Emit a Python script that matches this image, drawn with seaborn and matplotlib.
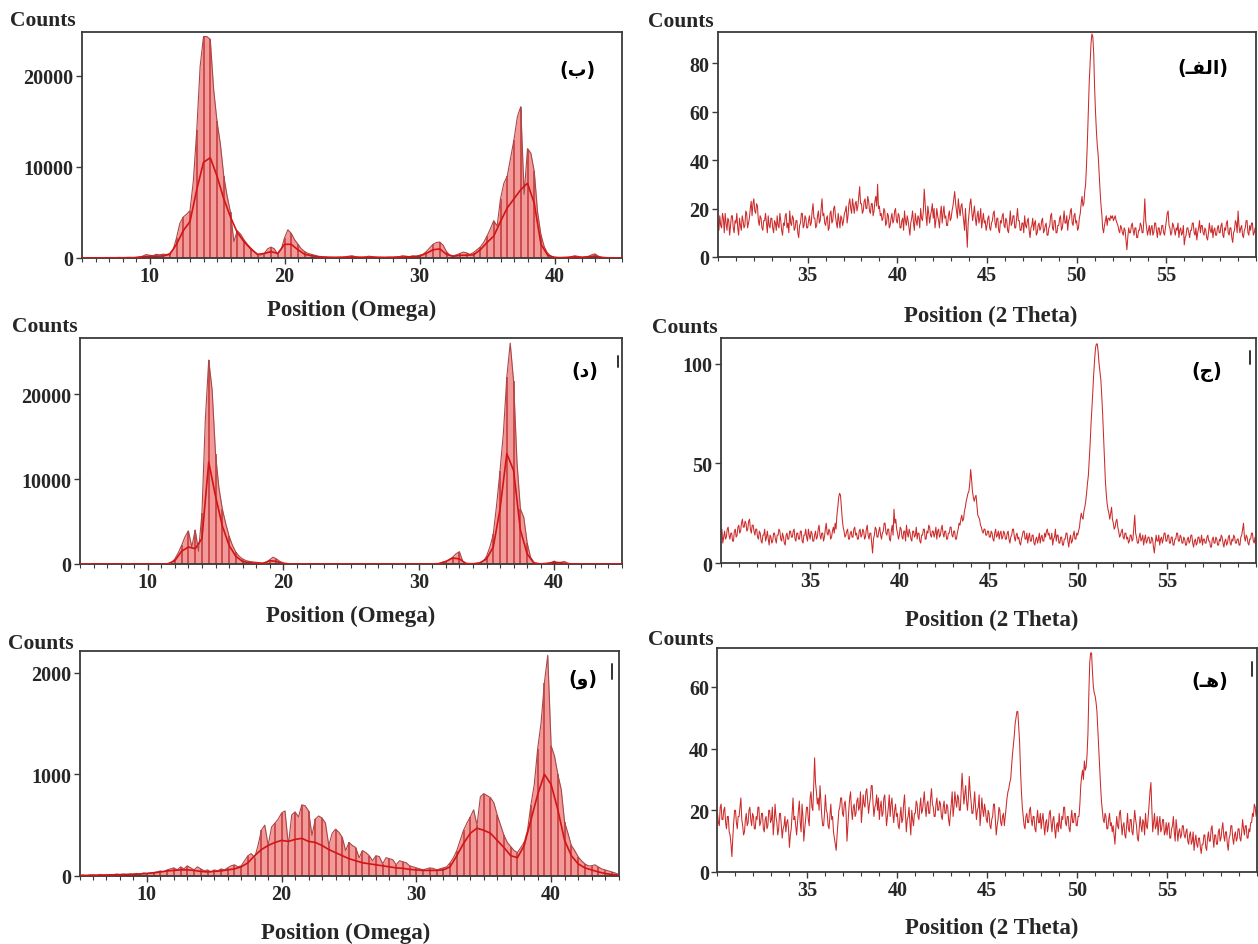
import numpy as np
import matplotlib
matplotlib.use("Agg")
import matplotlib.pyplot as plt
from matplotlib.lines import Line2D
from matplotlib.ticker import MultipleLocator, FixedLocator
import seaborn as sns

W, H = 1258, 945

# ---------------- data ----------------
OMEGA_START, OMEGA_STEP, MID_STEP = 5.0, 0.25, 0.5
THETA_START, THETA_STEP = 30.0, 0.05

# panel (b) omega scan: envelope, 4 values per degree from 5 to 45
B_TOP = [
    20, 30, 20, 40,   30, 20, 40, 30,   50, 30, 40, 60,   40, 50, 70, 50,      # 5-8
    80, 100, 200, 380,   300, 250, 400, 350,   420, 380, 500, 900,             # 9-11
    2200, 3800, 4500, 4800,   5200, 8500, 14000, 21000,                        # 12-13
    24300, 24300, 24000, 18500,   15000, 12500, 9000, 6800,                    # 14-15
    5000, 1800, 3000, 2600,   2000, 1500, 1100, 700,                           # 16-17
    400, 300, 500, 1000,   1200, 1000, 400, 900,                               # 18-19
    2200, 3100, 2700, 2000,   1500, 1000, 700, 500,                            # 20-21
    400, 300, 200, 150,   120, 100, 90, 80,   100, 90, 120, 200,               # 22-24
    250, 150, 100, 80,   120, 200, 150, 100,   90, 80, 70, 100,                # 25-27
    80, 120, 150, 250,   200, 150, 250, 200,                                   # 28-29
    300, 400, 700, 1100,   1500, 1700, 1750, 1400,                             # 30-31
    700, 300, 250, 350,   500, 650, 550, 400,                                  # 32-33
    600, 900, 1200, 1700,   2400, 3200, 4100, 3500,                            # 34-35
    6500, 8200, 9000, 11000,   13000, 15500, 16600, 7000,                      # 36-37
    12000, 11500, 9500, 5000,   2500, 1200, 500, 200,                          # 38-39
    100, 60, 50, 70,   90, 150, 250, 180,   100, 70, 150, 350,                 # 40-42
    450, 200, 80, 50,   40, 30, 30, 20,   20,                                  # 43-45
]
B_MID = [
    15, 15, 20, 20, 25, 25, 30, 35, 40, 150, 180, 200, 220, 400,               # 5-11
    1500, 3000, 4000, 7500, 10500, 11000, 9000, 6500, 4500, 2800,              # 12-16
    1800, 1000, 400, 500, 700, 500, 1500, 1500, 900, 400,                      # 17-21
    250, 120, 80, 60, 60, 90, 120, 70, 80, 90, 60, 60, 70, 100, 120, 130,      # 22-29
    200, 500, 900, 1000, 400, 180, 300, 300, 350, 900,                         # 30-34
    1700, 2400, 4000, 5500, 6500, 7500, 8200, 6000, 1500, 300,                 # 35-39
    50, 40, 60, 120, 70, 150, 200, 50, 20, 15, 15,                             # 40-45
]

# panel (d) omega scan
D_TOP = [
    10, 10, 10, 10,   10, 12, 10, 10,   10, 10, 12, 10,   10, 10, 10, 12,      # 5-8
    10, 12, 10, 10,   10, 10, 12, 10,   10, 20, 50, 150,                       # 9-11
    600, 1300, 2200, 3200,   3900, 2000, 4000, 1500,                           # 12-13
    6000, 17000, 24000, 20500,   13000, 9000, 6500, 4800,                      # 14-15
    3300, 2200, 1400, 900,   600, 400, 300, 250,                               # 16-17
    200, 150, 120, 100,   500, 800, 600, 300,   150, 80, 40, 20,               # 18-20
    10, 12, 10, 10,   12, 10, 10, 12,   10, 10, 12, 10,   10, 12, 10, 10,      # 21-24
    12, 10, 10, 12,   10, 10, 12, 10,   10, 12, 10, 10,   12, 10, 10, 12,      # 25-28
    10, 10, 12, 10,   10, 12, 10, 15,   15, 20, 60, 200,                       # 29-31
    300, 500, 800, 1200,   1450, 300, 80, 50,   40, 60, 150, 300,              # 32-34
    900, 2000, 3500, 7000,   11000, 15500, 22000, 26000,                       # 35-36
    21500, 12000, 6500, 5500,   2500, 800, 200, 60,                            # 37-38
    30, 20, 40, 150,   350, 100, 200, 300,   100, 30, 20, 10,                  # 39-41
    10, 12, 10, 10,   10, 10, 12, 10,   10, 10, 10, 10,   10,                  # 42-45
]
D_MID = [
    5, 5, 5, 5, 5, 5, 5, 5, 5, 5, 5, 5, 10, 30,                                # 5-11
    400, 1500, 2000, 1800, 3000, 12000, 8000, 4500, 2200, 900,                 # 12-16
    300, 150, 80, 60, 400, 300, 30, 5,                                         # 17-20
    5, 5, 5, 5, 5, 5, 5, 5, 5, 5, 5, 5, 5, 5, 5, 5, 5, 5, 5, 5,                # 21-30
    10, 50, 300, 700, 600, 40, 30, 120,                                        # 31-34
    600, 2000, 6500, 13000, 11000, 4000, 1200, 100,                            # 35-38
    20, 80, 200, 150, 20, 5, 5, 5, 5, 5, 5, 5, 5,                              # 39-45
]

# panel (w) omega scan
W_TOP = [
    5, 10, 5, 10,   10, 5, 15, 10,   10, 15, 10, 20,   15, 20, 15, 20,         # 5-8
    20, 25, 20, 30,   25, 30, 35, 40,   50, 40, 60, 70,                        # 9-11
    80, 60, 90, 70,   100, 80, 60, 90,   70, 50, 60, 40,                       # 12-14
    60, 50, 70, 60,   80, 100, 110, 90,   100, 150, 200, 220,                  # 15-17
    180, 300, 450, 500,   300, 480, 520, 560,                                  # 18-19
    620, 640, 300, 600,   630, 580, 700, 690,                                  # 20-21
    640, 400, 560, 590,   570, 520, 300, 420,                                  # 22-23
    460, 430, 380, 250,   330, 300, 280, 180,                                  # 24-25
    250, 230, 200, 150,   200, 190, 120, 180,                                  # 26-27
    170, 160, 110, 150,   140, 130, 100, 90,                                   # 28-29
    80, 70, 60, 70,   80, 75, 60, 70,   80, 90, 130, 180,                      # 30-32
    250, 350, 450, 520,   580, 650, 500, 780,                                  # 33-34
    810, 790, 770, 720,   600, 500, 400, 330,                                  # 35-36
    290, 250, 230, 280,   330, 450, 700, 900,                                  # 37-38
    1250, 1500, 1900, 2170,   1280, 1180, 1000, 850,                           # 39-40
    530, 420, 300, 250,   190, 150, 120, 100,                                  # 41-42
    100, 110, 90, 70,   60, 50, 40, 30,   15,                                  # 43-45
]
W_MID = [
    5, 5, 8, 8, 10, 12, 12, 15, 15, 20, 25, 30, 40, 50,                        # 5-11
    55, 60, 60, 55, 45, 40, 45, 50, 60, 70, 90, 130,                           # 12-17
    200, 260, 300, 330, 350, 340, 360, 370, 340, 330, 300, 260,                # 18-23
    230, 200, 170, 150, 130, 120, 110, 100, 90, 80, 75, 65,                    # 24-29
    60, 55, 55, 55, 60, 90, 200, 320, 420, 470, 450, 420,                      # 30-35
    350, 280, 200, 180, 300, 550, 800, 1000, 900, 650,                         # 36-40
    350, 200, 120, 80, 60, 40, 25, 15, 10,                                     # 41-45
]

# 2-theta scans: one row of 20 values per degree (step 0.05) from 30 to 60
A_ROWS = [
    [14, 11, 17, 13, 12, 18, 16, 10, 18, 14, 11, 16, 15, 9, 13, 17, 17, 12, 10, 15],    # 30
    [14, 18, 12, 9, 16, 13, 11, 17, 15, 12, 13, 19, 18, 12, 14, 16, 20, 23, 17, 22],    # 31
    [24, 19, 18, 22, 21, 15, 13, 17, 16, 12, 11, 15, 15, 18, 14, 10, 17, 13, 12, 16],   # 32
    [16, 12, 10, 15, 14, 11, 17, 13, 12, 18, 15, 11, 9, 14, 13, 17, 18, 12, 14, 10],    # 33
    [19, 14, 13, 17, 16, 11, 12, 15, 15, 10, 8, 13, 14, 18, 18, 12, 13, 17, 16, 12],    # 34
    [12, 15, 17, 13, 14, 19, 22, 16, 16, 12, 13, 17, 19, 14, 15, 20, 24, 17, 18, 14],   # 35
    [13, 16, 17, 11, 12, 18, 19, 14, 15, 20, 21, 17, 14, 12, 18, 15, 12, 17, 16, 13],   # 36
    [15, 18, 19, 21, 14, 17, 22, 24, 20, 18, 24, 21, 18, 22, 23, 19, 21, 25, 29, 22],   # 37
    [22, 18, 19, 23, 24, 20, 20, 25, 23, 19, 18, 22, 22, 17, 19, 23, 25, 21, 30, 20],   # 38
    [21, 17, 18, 15, 16, 20, 19, 13, 14, 18, 17, 12, 13, 16, 18, 14, 15, 19, 20, 15],   # 39
    [14, 18, 17, 12, 12, 15, 16, 11, 19, 15, 13, 17, 15, 12, 9, 14, 16, 19, 14, 11],    # 40
    [18, 15, 13, 17, 16, 12, 20, 16, 15, 19, 28, 22, 17, 13, 21, 18, 14, 17, 19, 22],   # 41
    [16, 20, 12, 15, 20, 17, 15, 12, 18, 21, 14, 18, 21, 16, 17, 13, 13, 17, 19, 15],   # 42
    [16, 19, 21, 24, 27, 22, 19, 16, 24, 20, 17, 21, 22, 18, 15, 11, 20, 12, 4, 14],    # 43
    [18, 22, 24, 19, 15, 18, 21, 16, 13, 17, 19, 14, 16, 20, 12, 15, 18, 14, 15, 11],   # 44
    [13, 16, 17, 12, 11, 14, 15, 18, 19, 14, 12, 16, 16, 11, 10, 15, 14, 17, 18, 13],   # 45
    [12, 16, 15, 11, 10, 14, 19, 13, 14, 17, 17, 12, 12, 16, 20, 15, 15, 11, 11, 14],   # 46
    [14, 10, 17, 13, 12, 15, 16, 11, 8, 12, 13, 16, 11, 14, 15, 9, 10, 13, 14, 11],     # 47
    [12, 15, 16, 10, 11, 13, 14, 9, 9, 12, 13, 17, 18, 12, 11, 15, 15, 10, 10, 13],     # 48
    [13, 16, 17, 11, 12, 15, 19, 14, 14, 17, 11, 15, 16, 19, 20, 14, 13, 17, 18, 14],   # 49
    [15, 11, 12, 16, 18, 22, 25, 21, 22, 27, 30, 38, 48, 60, 72, 80, 88, 92, 91, 84],   # 50
    [70, 60, 52, 46, 42, 35, 28, 22, 18, 12, 10, 13, 15, 17, 13, 16, 16, 15, 17, 16],   # 51
    [17, 15, 16, 17, 15, 14, 13, 11, 10, 13, 12, 10, 9, 12, 11, 7, 3, 8, 12, 10],       # 52
    [10, 13, 14, 11, 9, 12, 12, 8, 8, 11, 11, 14, 13, 10, 10, 16, 24, 15, 12, 9],       # 53
    [11, 13, 9, 12, 13, 9, 10, 14, 14, 11, 8, 12, 12, 9, 10, 13, 13, 10, 9, 12],        # 54
    [15, 18, 19, 13, 12, 9, 10, 14, 13, 11, 9, 12, 11, 14, 8, 11, 12, 9, 10, 13],       # 55
    [5, 8, 9, 12, 12, 10, 8, 11, 11, 14, 14, 10, 9, 12, 7, 10, 12, 15, 10, 13],         # 56
    [13, 10, 9, 12, 11, 8, 7, 10, 14, 11, 10, 13, 8, 11, 12, 9, 9, 12, 13, 10],         # 57
    [10, 13, 14, 9, 8, 12, 11, 14, 15, 10, 9, 12, 12, 8, 6, 10, 11, 15, 14, 10],        # 58
    [19, 13, 10, 12, 13, 9, 8, 11, 12, 15, 15, 10, 9, 13, 11, 14, 14, 9, 10, 12],       # 59
    [12],                                                                               # 60
]
C_ROWS = [
    [14, 17, 10, 13, 16, 12, 13, 17, 18, 14, 12, 15, 15, 11, 11, 16, 17, 13, 14, 18],   # 30
    [19, 15, 16, 20, 22, 18, 18, 21, 20, 16, 17, 21, 22, 17, 15, 19, 19, 16, 14, 17],   # 31
    [17, 13, 12, 16, 15, 11, 10, 14, 14, 17, 11, 13, 16, 12, 9, 14, 13, 10, 11, 15],    # 32
    [15, 12, 10, 14, 14, 17, 16, 12, 11, 15, 13, 10, 9, 14, 15, 12, 12, 16, 16, 13],    # 33
    [13, 16, 17, 12, 11, 15, 15, 12, 12, 16, 16, 11, 10, 14, 14, 17, 13, 11, 17, 14],   # 34
    [12, 16, 15, 11, 11, 14, 16, 12, 13, 17, 19, 14, 12, 15, 15, 11, 13, 17, 20, 15],   # 35
    [14, 17, 16, 12, 13, 16, 18, 15, 20, 17, 24, 28, 33, 35, 34, 28, 22, 18, 16, 13],   # 36
    [14, 16, 17, 12, 12, 15, 16, 13, 13, 17, 18, 14, 15, 12, 12, 16, 17, 13, 14, 17],   # 37
    [16, 12, 13, 17, 19, 14, 12, 15, 15, 10, 5, 12, 14, 18, 17, 13, 13, 16, 18, 14],    # 38
    [12, 15, 16, 20, 20, 15, 14, 17, 17, 12, 11, 16, 19, 14, 27, 20, 22, 17, 15, 12],   # 39
    [14, 18, 17, 13, 12, 16, 16, 11, 19, 15, 13, 17, 15, 12, 11, 16, 16, 13, 14, 18],   # 40
    [12, 15, 15, 11, 10, 14, 14, 17, 17, 12, 12, 16, 15, 19, 18, 14, 13, 16, 16, 13],   # 41
    [15, 18, 12, 16, 17, 13, 14, 17, 19, 15, 13, 16, 16, 12, 12, 15, 15, 18, 18, 14],   # 42
    [13, 16, 16, 12, 12, 15, 17, 20, 19, 22, 24, 21, 22, 26, 28, 31, 33, 35, 36, 40],   # 43
    [47, 42, 36, 33, 31, 33, 34, 29, 24, 23, 22, 19, 18, 16, 15, 17, 17, 14, 14, 16],   # 44
    [16, 13, 13, 16, 15, 12, 11, 15, 17, 13, 14, 16, 12, 15, 16, 12, 13, 16, 15, 12],   # 45
    [12, 15, 16, 12, 10, 13, 14, 17, 17, 13, 11, 14, 15, 12, 13, 10, 9, 12, 14, 16],    # 46
    [16, 12, 12, 15, 10, 13, 15, 11, 11, 14, 14, 10, 9, 12, 13, 10, 12, 15, 10, 13],    # 47
    [14, 11, 11, 15, 13, 16, 17, 14, 15, 12, 12, 15, 9, 12, 13, 17, 11, 14, 14, 10],    # 48
    [10, 13, 13, 9, 9, 12, 12, 15, 15, 11, 8, 12, 14, 10, 11, 14, 16, 12, 12, 15],      # 49
    [14, 16, 18, 22, 25, 23, 22, 26, 28, 31, 35, 40, 44, 52, 60, 70, 78, 86, 95, 102],  # 50
    [108, 110, 110, 106, 100, 96, 92, 84, 75, 64, 52, 42, 35, 30, 27, 25, 22, 25, 28, 22],  # 51
    [20, 17, 18, 21, 22, 18, 16, 13, 14, 16, 17, 13, 12, 15, 15, 12, 13, 10, 11, 14],   # 52
    [14, 11, 12, 18, 24, 15, 13, 10, 10, 13, 15, 11, 12, 14, 9, 12, 14, 10, 11, 13],    # 53
    [13, 10, 10, 13, 12, 8, 5, 10, 14, 11, 11, 14, 9, 12, 13, 10, 12, 15, 15, 11],      # 54
    [11, 14, 14, 10, 10, 13, 13, 9, 9, 12, 12, 15, 15, 11, 11, 14, 13, 10, 10, 13],     # 55
    [12, 9, 9, 12, 13, 10, 11, 14, 14, 10, 8, 11, 12, 9, 10, 13, 13, 10, 11, 14],       # 56
    [9, 12, 12, 10, 10, 13, 14, 11, 11, 8, 8, 12, 13, 10, 10, 13, 12, 9, 9, 12],        # 57
    [11, 14, 13, 10, 8, 11, 12, 9, 10, 13, 14, 10, 9, 12, 11, 14, 13, 10, 10, 12],      # 58
    [12, 9, 9, 13, 14, 17, 20, 13, 11, 14, 13, 10, 9, 12, 12, 15, 15, 11, 10, 13],      # 59
    [11],                                                                               # 60
]
E_ROWS = [
    [19, 16, 15, 21, 22, 17, 17, 20, 21, 16, 14, 18, 18, 13, 12, 9, 5, 11, 16, 20],     # 30
    [20, 16, 14, 18, 18, 21, 24, 17, 15, 12, 13, 17, 19, 15, 16, 20, 21, 17, 15, 19],   # 31
    [18, 14, 14, 18, 17, 21, 21, 15, 16, 19, 19, 14, 13, 17, 18, 14, 15, 20, 20, 16],   # 32
    [17, 21, 12, 16, 22, 18, 16, 12, 14, 19, 19, 15, 11, 14, 15, 18, 13, 16, 17, 14],   # 33
    [8, 12, 14, 19, 24, 17, 18, 15, 12, 16, 20, 23, 16, 13, 22, 18, 10, 14, 17, 21],    # 34
    [21, 17, 15, 24, 26, 21, 20, 28, 37, 29, 26, 22, 24, 20, 28, 23, 18, 15, 15, 19],   # 35
    [25, 20, 19, 15, 14, 18, 22, 17, 18, 13, 11, 9, 7, 12, 16, 20, 21, 24, 24, 19],     # 36
    [18, 22, 23, 19, 10, 15, 20, 24, 26, 20, 17, 21, 22, 18, 19, 23, 24, 20, 21, 26],   # 37
    [16, 20, 25, 22, 21, 26, 27, 23, 19, 22, 24, 28, 28, 22, 18, 21, 22, 25, 20, 24],   # 38
    [17, 21, 23, 18, 19, 24, 25, 20, 15, 18, 21, 25, 18, 22, 24, 19, 16, 20, 22, 18],   # 39
    [19, 15, 14, 18, 21, 16, 17, 22, 25, 19, 13, 17, 18, 21, 16, 12, 20, 17, 15, 19],   # 40
    [19, 23, 22, 18, 17, 21, 24, 19, 20, 23, 26, 21, 18, 22, 23, 19, 19, 24, 27, 22],   # 41
    [21, 18, 18, 22, 24, 20, 20, 23, 22, 18, 17, 21, 23, 19, 19, 22, 21, 17, 15, 19],   # 42
    [22, 26, 18, 21, 26, 23, 21, 25, 24, 20, 20, 26, 32, 27, 22, 25, 28, 23, 20, 24],   # 43
    [31, 26, 23, 19, 19, 22, 26, 21, 17, 20, 21, 25, 15, 19, 24, 20, 18, 22, 20, 17],   # 44
    [16, 20, 19, 15, 14, 17, 18, 22, 22, 17, 12, 15, 17, 21, 20, 16, 15, 18, 19, 15],   # 45
    [18, 21, 24, 26, 27, 29, 30, 34, 38, 41, 44, 48, 50, 52, 52, 47, 42, 33, 26, 21],   # 46
    [18, 15, 14, 18, 19, 16, 16, 20, 21, 17, 15, 18, 18, 14, 13, 17, 20, 16, 16, 19],   # 47
    [14, 17, 19, 15, 12, 16, 17, 13, 15, 19, 20, 16, 13, 17, 18, 14, 11, 15, 16, 13],   # 48
    [19, 15, 14, 18, 17, 21, 21, 16, 15, 18, 18, 14, 13, 17, 20, 16, 16, 19, 19, 15],   # 49
    [15, 18, 18, 22, 28, 31, 33, 30, 36, 33, 34, 38, 45, 58, 68, 71, 71, 65, 60, 58],   # 50
    [57, 55, 52, 46, 40, 34, 28, 23, 20, 17, 16, 19, 18, 14, 14, 17, 19, 15, 16, 13],   # 51
    [15, 12, 9, 14, 18, 15, 14, 19, 20, 16, 12, 15, 16, 12, 11, 15, 19, 14, 13, 17],    # 52
    [17, 13, 12, 16, 20, 17, 15, 11, 10, 14, 18, 15, 13, 17, 16, 12, 19, 15, 14, 18],   # 53
    [22, 26, 29, 21, 13, 16, 19, 14, 15, 18, 12, 16, 18, 13, 14, 17, 17, 12, 13, 16],   # 54
    [12, 15, 16, 11, 11, 14, 15, 18, 13, 10, 17, 14, 10, 13, 14, 11, 12, 15, 15, 12],   # 55
    [11, 13, 14, 10, 9, 12, 13, 9, 10, 13, 7, 10, 12, 9, 8, 11, 11, 8, 6, 9],           # 56
    [9, 12, 12, 8, 7, 11, 13, 10, 10, 14, 15, 11, 8, 12, 12, 9, 9, 13, 14, 10],         # 57
    [11, 14, 16, 12, 10, 13, 13, 9, 7, 11, 12, 15, 15, 11, 9, 12, 13, 10, 11, 14],      # 58
    [14, 11, 10, 13, 17, 14, 12, 15, 15, 11, 11, 14, 13, 16, 16, 19, 18, 22, 21, 18],   # 59
    [20],                                                                               # 60
]

OMEGA_XTICKS = [10, 20, 30, 40]
THETA_XTICKS = [35, 40, 45, 50, 55]
XLABEL_OMEGA = "Position (Omega)"
XLABEL_THETA = "Position (2 Theta)"
YLABEL = "Counts"

# Persian panel letters written in Arabic presentation forms (visual order)
TAG_B = "(\ufe8f)"                                   # (ب)
TAG_ALEF = "(\u0640\ufed4\ufedf\ufe8d)"              # (الفـ)
TAG_D = "(\ufea9)"                                   # (د)
TAG_J = "(\ufe9d)"                                   # (ج)
TAG_W = "(\ufeed)"                                   # (و)
TAG_HE = "(\u0640\ufeeb)"                            # (هـ)

# ---------------- style ----------------
sns.set_theme(style="ticks")
plt.rcParams["font.family"] = ["Liberation Serif", "DejaVu Sans"]
plt.rcParams["font.weight"] = "bold"
plt.rcParams["axes.labelweight"] = "bold"

FILL = "#f29a9a"
STRIPE = "#c23636"
EDGE = "#a84848"
MIDC = "#d41414"
LINEC = "#cc2a2a"
SPINE = "#3a3a3a"

fig = plt.figure(figsize=(W / 100, H / 100), dpi=100)


def px_rect(l, r, t, b):
    return [l / W, 1 - b / H, (r - l) / W, (b - t) / H]


def flatten(rows):
    for r in rows[:-1]:
        assert len(r) == 20, r
    return np.array([v for r in rows for v in r], float)


def draw_omega(ax, top, mid):
    top = np.asarray(top, float)
    mid = np.asarray(mid, float)
    x = OMEGA_START + OMEGA_STEP * np.arange(len(top))
    xm = OMEGA_START + MID_STEP * np.arange(len(mid))
    ax.fill_between(x, 0, top, color=FILL, linewidth=0, zorder=1)
    ax.vlines(x[::2], 0, top[::2], color=STRIPE, linewidth=1.1, zorder=2)
    sns.lineplot(x=x, y=top, ax=ax, color=EDGE, linewidth=0.8, zorder=3,
                 estimator=None, sort=False)
    sns.lineplot(x=xm, y=mid, ax=ax, color=MIDC, linewidth=1.2, zorder=4,
                 estimator=None, sort=False)


def draw_theta(ax, rows):
    counts = flatten(rows)
    x = THETA_START + THETA_STEP * np.arange(len(counts))
    sns.lineplot(x=x, y=counts, ax=ax, color=LINEC, linewidth=0.75,
                 estimator=None, sort=False)


def style(ax, xlim, ylim, xticks, yticks, xlabel, xl_pos, yl_pos, tag, tag_pos):
    ax.set_xlim(*xlim)
    ax.set_ylim(*ylim)
    ax.xaxis.set_major_locator(FixedLocator(xticks))
    ax.xaxis.set_minor_locator(MultipleLocator(1))
    ax.yaxis.set_major_locator(FixedLocator(yticks))
    ax.tick_params(axis="both", which="major", direction="out", length=4,
                   width=1.0, color=SPINE, labelsize=14.5, pad=2)
    ax.tick_params(axis="x", which="minor", direction="out", length=3,
                   width=0.8, color=SPINE)
    for lab in ax.get_xticklabels() + ax.get_yticklabels():
        lab.set_fontweight("bold")
    for sp in ax.spines.values():
        sp.set_visible(True)
        sp.set_color(SPINE)
        sp.set_linewidth(1.3)
    ax.set_xlabel(xlabel, fontsize=16.5, fontweight="bold")
    ax.xaxis.label.set_va("center")
    ax.xaxis.set_label_coords(*xl_pos)
    ax.set_ylabel(YLABEL, rotation=0, fontsize=15.5, fontweight="bold",
                  ha="left", va="center")
    ax.yaxis.set_label_coords(*yl_pos)
    ax.text(tag_pos[0], tag_pos[1], tag, transform=ax.transAxes,
            ha="center", va="center", fontsize=13.5, fontweight="bold",
            family=["DejaVu Sans"], color="black")
    ax.grid(False)


# top-left (ب)
ax = fig.add_axes(px_rect(82, 622, 33, 259))
draw_omega(ax, B_TOP, B_MID)
style(ax, (5, 45), (0, 24800), OMEGA_XTICKS, [0, 10000, 20000], XLABEL_OMEGA,
      (0.50, -0.226), (-0.133, 1.053), TAG_B, (0.918, 0.836))

# top-right (الف)
ax = fig.add_axes(px_rect(718, 1256, 33, 258))
draw_theta(ax, A_ROWS)
style(ax, (30, 60), (0, 92.8), THETA_XTICKS, [0, 20, 40, 60, 80], XLABEL_THETA,
      (0.506, -0.258), (-0.130, 1.049), TAG_ALEF, (0.901, 0.84))

# middle-left (د)
ax = fig.add_axes(px_rect(80, 622, 339, 565))
draw_omega(ax, D_TOP, D_MID)
style(ax, (5, 45), (0, 26600), OMEGA_XTICKS, [0, 10000, 20000], XLABEL_OMEGA,
      (0.50, -0.226), (-0.125, 1.053), TAG_D, (0.932, 0.858))

# middle-right (ج)
ax = fig.add_axes(px_rect(721, 1256, 339, 564))
draw_theta(ax, C_ROWS)
style(ax, (30, 60), (0, 113), THETA_XTICKS, [0, 50, 100], XLABEL_THETA,
      (0.506, -0.249), (-0.129, 1.049), TAG_J, (0.908, 0.853))

# bottom-left (و)
ax = fig.add_axes(px_rect(79.5, 618.5, 652, 877))
draw_omega(ax, W_TOP, W_MID)
style(ax, (5, 45), (0, 2212), OMEGA_XTICKS, [0, 1000, 2000], XLABEL_OMEGA,
      (0.494, -0.249), (-0.133, 1.036), TAG_W, (0.934, 0.88))

# bottom-right (هـ)
ax = fig.add_axes(px_rect(717.5, 1257, 649, 873))
draw_theta(ax, E_ROWS)
style(ax, (30, 60), (0, 72.6), THETA_XTICKS, [0, 20, 40, 60], XLABEL_THETA,
      (0.509, -0.246), (-0.129, 1.040), TAG_HE, (0.913, 0.853))

# small stray marks near the right frames
for xp, y1, y2 in [(618, 357, 368), (1250, 352, 365), (612, 665, 680), (1252, 663, 677)]:
    fig.add_artist(Line2D([xp / W, xp / W], [1 - y1 / H, 1 - y2 / H],
                          transform=fig.transFigure, color="#333333", linewidth=1.4))

fig.savefig("out.png", dpi=100, facecolor="white")
